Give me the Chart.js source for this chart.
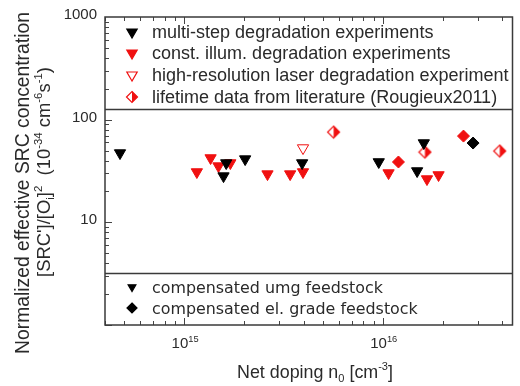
<!DOCTYPE html>
<html>
<head>
<meta charset="utf-8">
<script src="https://cdn.jsdelivr.net/npm/chart.js@4.4.0/dist/chart.umd.min.js"></script>
<style>
    html, body { margin: 0; padding: 0; background: #fff; }
    #wrap { width: 520px; height: 386px; }
</style>
</head>
<body>
<div id="wrap"><canvas id="chart" width="520" height="386"></canvas></div>
<script>
// Net doping n0 [cm^-3] (x) vs. normalized SRC concentration (y)
const multiUmgX = [4.76e14, 1.58e15, 1.63e15, 2.03e15, 3.93e15, 9.55e15, 1.49e16, 1.61e16];
const multiUmgY = [47.3, 28.2, 37.8, 41.3, 37.8, 38.7, 31.6, 59.2];
const multiElX = [2.85e16];
const multiElY = [59.2];
const constUmgX = [1.16e15, 1.36e15, 1.49e15, 1.71e15, 2.63e15, 3.42e15, 3.97e15, 1.07e16, 1.67e16, 1.91e16];
const constUmgY = [30.9, 42.3, 35.3, 37.8, 29.5, 29.5, 30.9, 30.2, 26.4, 28.9];
const constElX = [1.20e16, 2.55e16];
const constElY = [38.7, 69.2];
const laserX = [3.97e15];
const laserY = [52.9];
const literatureX = [5.66e15, 1.63e16, 3.88e16];
const literatureY = [75.7, 48.3, 49.5];

// Axis ticks
const yTickValues = [1000, 100, 10];
const yTickLabels = ["1000", "100", "10"];
const xTickValues = [1e15, 1e16];
const xTickExponents = ["15", "16"];

const legendTop = [
    "multi-step degradation experiments",
    "const. illum. degradation experiments",
    "high-resolution laser degradation experiment",
    "lifetime data from literature (Rougieux2011)"
];
const legendBottom = ["compensated umg feedstock", "compensated el. grade feedstock"];

const RED = "#f01010";
const INK = "#2a2a2a";
const SANS = "'Liberation Sans', Arial, sans-serif";

const toPoints = (xs, ys) => xs.map((x, i) => ({ x, y: ys[i] }));

// Half open / half filled diamond used for the literature data
function halfDiamond(r) {
    const c = document.createElement("canvas");
    const s = Math.ceil(r * 2 + 3);
    c.width = s; c.height = s;
    const g = c.getContext("2d");
    drawMarker(g, "half", s / 2, s / 2, r);
    return c;
}

// Shapes for the hand-drawn legends
function drawMarker(ctx, kind, x, y, r, fill, stroke) {
    ctx.save();
    ctx.lineWidth = 1.2;
    if (kind === "tri") {
        const h = r * Math.sin(Math.PI / 3);
        ctx.beginPath();
        ctx.moveTo(x, y + r);
        ctx.lineTo(x - h, y - r / 2);
        ctx.lineTo(x + h, y - r / 2);
        ctx.closePath();
        ctx.fillStyle = fill; ctx.fill();
        ctx.strokeStyle = stroke; ctx.stroke();
    } else if (kind === "dia") {
        ctx.beginPath();
        ctx.moveTo(x, y - r); ctx.lineTo(x + r, y); ctx.lineTo(x, y + r); ctx.lineTo(x - r, y);
        ctx.closePath();
        ctx.fillStyle = fill; ctx.fill();
        ctx.strokeStyle = stroke; ctx.stroke();
    } else if (kind === "half") {
        ctx.beginPath();
        ctx.moveTo(x, y - r); ctx.lineTo(x - r, y); ctx.lineTo(x, y + r); ctx.closePath();
        ctx.fillStyle = "#fff"; ctx.fill();
        ctx.beginPath();
        ctx.moveTo(x, y - r); ctx.lineTo(x + r, y); ctx.lineTo(x, y + r); ctx.closePath();
        ctx.fillStyle = RED; ctx.fill();
        ctx.beginPath();
        ctx.moveTo(x, y - r); ctx.lineTo(x + r, y); ctx.lineTo(x, y + r); ctx.lineTo(x - r, y);
        ctx.closePath();
        ctx.strokeStyle = RED; ctx.stroke();
    }
    ctx.restore();
}

// Text with sub/superscripts: parts = [[text, "sup"|"sub"|undefined], ...]
function richWidth(ctx, parts, size, family) {
    let w = 0;
    for (const [t, s] of parts) {
        ctx.font = (s ? size * 0.62 : size) + "px " + family;
        w += ctx.measureText(t).width;
    }
    return w;
}

function drawRich(ctx, parts, x, y, size, family, align) {
    const w = richWidth(ctx, parts, size, family);
    let cx = align === "center" ? x - w / 2 : align === "right" ? x - w : x;
    ctx.textAlign = "left";
    ctx.textBaseline = "alphabetic";
    for (const [t, s] of parts) {
        ctx.font = (s ? size * 0.62 : size) + "px " + family;
        const dy = s === "sup" ? -size * 0.42 : s === "sub" ? size * 0.22 : 0;
        ctx.fillText(t, cx, y + dy);
        cx += ctx.measureText(t).width;
    }
}

// Font size that makes a text run a given width
function fitSize(ctx, parts, family, target) {
    return 20 * target / richWidth(ctx, parts, 20, family);
}

const decorPlugin = {
    id: "decor",
    afterDraw(chart) {
        const ctx = chart.ctx;
        const { left, right, top, bottom } = chart.chartArea;
        const xs = chart.scales.x, ys = chart.scales.y;
        ctx.save();

        // Minor/major ticks pointing inward
        ctx.strokeStyle = "#444";
        ctx.lineWidth = 1;
        ctx.beginPath();
        for (let e = 0; e < 3; e++) {
            for (let m = 1; m <= 9; m++) {
                const py = Math.round(ys.getPixelForValue(m * Math.pow(10, e))) + 0.5;
                const len = m === 1 ? 7 : 4;
                ctx.moveTo(left, py); ctx.lineTo(left + len, py);
            }
        }
        for (let e = 14; e <= 16; e++) {
            for (let m = 1; m <= 9; m++) {
                const v = m * Math.pow(10, e);
                if (v < xs.min || v > xs.max) continue;
                const px = Math.round(xs.getPixelForValue(v)) + 0.5;
                const len = m === 1 ? 7 : 4;
                ctx.moveTo(px, bottom); ctx.lineTo(px, bottom - len);
                ctx.moveTo(px, top); ctx.lineTo(px, top + len);
            }
        }
        ctx.stroke();

        // Frame and legend separators
        ctx.strokeStyle = "#3a3a3a";
        ctx.lineWidth = 1.5;
        ctx.strokeRect(left, top, right - left, bottom - top);
        ctx.beginPath();
        ctx.moveTo(left, 109.5); ctx.lineTo(right, 109.5);
        ctx.moveTo(left, 273.5); ctx.lineTo(right, 273.5);
        ctx.stroke();

        ctx.fillStyle = INK;

        // Y tick labels
        ctx.font = "15px " + SANS;
        ctx.textAlign = "right";
        ctx.textBaseline = "middle";
        yTickValues.forEach((v, i) => {
            ctx.fillText(yTickLabels[i], 97, ys.getPixelForValue(v) - 2);
        });

        // X tick labels (10^n)
        xTickValues.forEach((v, i) => {
            drawRich(ctx, [["10"], [xTickExponents[i], "sup"]], xs.getPixelForValue(v) + 1, 348, 15, SANS, "center");
        });

        // Axis titles
        const xTitle = [["Net doping n"], ["0", "sub"], [" [cm"], ["-3", "sup"], ["]"]];
        drawRich(ctx, xTitle, 315, 378, fitSize(ctx, xTitle, SANS, 156), SANS, "center");

        const yTitle1 = [["Normalized effective SRC concentration"]];
        const yTitle2 = [["[SRC']/[O"], ["i", "sub"], ["]"], ["2", "sup"], ["  (10"], ["-34", "sup"], [" cm"], ["-6", "sup"], ["s"], ["-1", "sup"], [")"]];
        ctx.save();
        ctx.translate(29, 183);
        ctx.rotate(-Math.PI / 2);
        drawRich(ctx, yTitle1, 0, 0, fitSize(ctx, yTitle1, SANS, 342), SANS, "center");
        ctx.restore();
        ctx.save();
        ctx.translate(50, 172);
        ctx.rotate(-Math.PI / 2);
        drawRich(ctx, yTitle2, 0, 0, fitSize(ctx, yTitle2, SANS, 210), SANS, "center");
        ctx.restore();

        // Upper legend (experiment type)
        const topSize = fitSize(ctx, [[legendTop[2]]], SANS, 357);
        const topRows = [32, 53, 75, 97];
        drawMarker(ctx, "tri", 132, topRows[0], 6, "#000", "#000");
        drawMarker(ctx, "tri", 132, topRows[1], 6, RED, RED);
        drawMarker(ctx, "tri", 132, topRows[2], 6, "#fff", RED);
        drawMarker(ctx, "half", 132, topRows[3], 5.5);
        ctx.fillStyle = INK;
        legendTop.forEach((t, i) => drawRich(ctx, [[t]], 152, topRows[i] + topSize * 0.36, topSize, SANS, "left"));

        // Lower legend (feedstock)
        const botFamily = "'DejaVu Sans', Verdana, sans-serif";
        const botSize = fitSize(ctx, [[legendBottom[1]]], botFamily, 266);
        const botRows = [287, 308];
        drawMarker(ctx, "tri", 132, botRows[0], 4.5, "#000", "#000");
        drawMarker(ctx, "dia", 132, botRows[1], 5, "#000", "#000");
        ctx.fillStyle = INK;
        legendBottom.forEach((t, i) => drawRich(ctx, [[t]], 152, botRows[i] + botSize * 0.36, botSize, botFamily, "left"));

        ctx.restore();
    }
};

const triangle = (color, fill) => ({
    pointStyle: "triangle", pointRotation: 180, pointRadius: 6.5,
    pointBackgroundColor: fill, pointBorderColor: color, pointBorderWidth: 1
});
const diamond = (color) => ({
    pointStyle: "rectRot", pointRadius: 6,
    pointBackgroundColor: color, pointBorderColor: color, pointBorderWidth: 1
});

new Chart(document.getElementById("chart"), {
    type: "scatter",
    data: {
        datasets: [
            { label: "multi-step, umg", data: toPoints(multiUmgX, multiUmgY), ...triangle("#000", "#000") },
            { label: "const. illum., umg", data: toPoints(constUmgX, constUmgY), ...triangle(RED, RED) },
            { label: "high-resolution laser", data: toPoints(laserX, laserY), ...triangle(RED, "#fff") },
            { label: "multi-step, el. grade", data: toPoints(multiElX, multiElY), ...diamond("#000") },
            { label: "const. illum., el. grade", data: toPoints(constElX, constElY), ...diamond(RED) },
            { label: "Rougieux2011", data: toPoints(literatureX, literatureY), pointStyle: halfDiamond(6), pointRadius: 6 }
        ]
    },
    options: {
        responsive: false,
        animation: false,
        events: [],
        layout: { padding: { left: 105, right: 1, top: 17, bottom: 61 } },
        plugins: { legend: { display: false }, tooltip: { enabled: false } },
        scales: {
            x: { type: "logarithmic", min: 4e14, max: 4.5e16, display: false },
            y: { type: "logarithmic", min: 1, max: 1000, display: false }
        }
    },
    plugins: [decorPlugin]
});
</script>
</body>
</html>
